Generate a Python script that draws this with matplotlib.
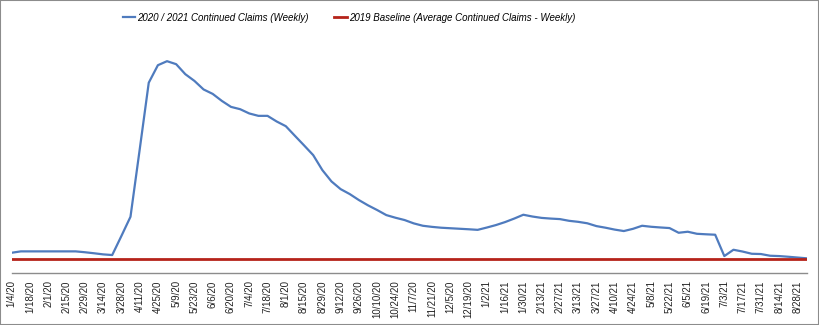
import matplotlib
matplotlib.use("Agg")
import matplotlib.pyplot as plt
from matplotlib.patches import Rectangle
import pandas as pd

# weekly dates, 1/4/20 .. 9/4/21
weeks = pd.date_range("2020-01-04", periods=88, freq="7D")
week_labels = [f"{d.month}/{d.day}/{d.year % 100}" for d in weeks]

# continued claims, millions
claims = [
    2.41, 2.57, 2.57, 2.57, 2.57, 2.57, 2.57, 2.57, 2.47, 2.35,
    2.22, 2.14, 4.36, 6.62, 14.43, 22.32, 24.37, 24.84, 24.49, 23.32,
    22.53, 21.53, 21.01, 20.19, 19.49, 19.22, 18.72, 18.44, 18.44, 17.78,
    17.23, 16.10, 14.98, 13.84, 12.09, 10.76, 9.86, 9.28, 8.58, 7.96,
    7.41, 6.82, 6.51, 6.24, 5.85, 5.57, 5.44, 5.34, 5.28, 5.22,
    5.16, 5.09, 5.36, 5.65, 6.00, 6.41, 6.86, 6.65, 6.49, 6.41,
    6.35, 6.15, 6.03, 5.86, 5.53, 5.34, 5.12, 4.95, 5.21, 5.57,
    5.45, 5.37, 5.30, 4.75, 4.87, 4.63, 4.57, 4.52, 2.02, 2.76,
    2.55, 2.29, 2.26, 2.06, 2.02, 1.94, 1.85, 1.76,
]
baseline_2019 = 1.71

label_cur = "2020 / 2021 Continued Claims (Weekly)"
label_base = "2019 Baseline (Average Continued Claims - Weekly)"

fig = plt.figure(figsize=(8.19, 3.25), dpi=100)
ax = fig.add_axes([0.0143, 0.159, 0.9705, 0.72])

x = list(range(len(claims)))
ax.plot(x, claims, color="#4F7BBE", lw=1.6, label=label_cur)
ax.plot(x, [baseline_2019] * len(x), color="#B5231A", lw=2.0, label=label_base)

ax.set_xlim(0, len(x) - 1)
ax.set_ylim(0, 27.4)
ax.set_xticks(x[::2])
ax.set_xticklabels(week_labels[::2], rotation=90, fontsize=7,
                   family="Liberation Sans", color="#222222")
ax.tick_params(axis="x", length=0, pad=5)
ax.set_yticks([])
for s in ("left", "right", "top"):
    ax.spines[s].set_visible(False)
ax.spines["bottom"].set_color("#8c8c8c")
ax.spines["bottom"].set_linewidth(1.0)

fig.legend(loc="center", bbox_to_anchor=(0.426, 0.946), ncol=2, frameon=False,
           handlelength=1.3, handletextpad=0.2, columnspacing=2.6,
           prop={"family": "Liberation Sans", "style": "italic", "size": 7})

fig.patches.append(Rectangle((0, 0), 1, 1, transform=fig.transFigure, fill=False,
                             edgecolor="#8c8c8c", lw=1.5))

fig.savefig("out.png", dpi=100)
